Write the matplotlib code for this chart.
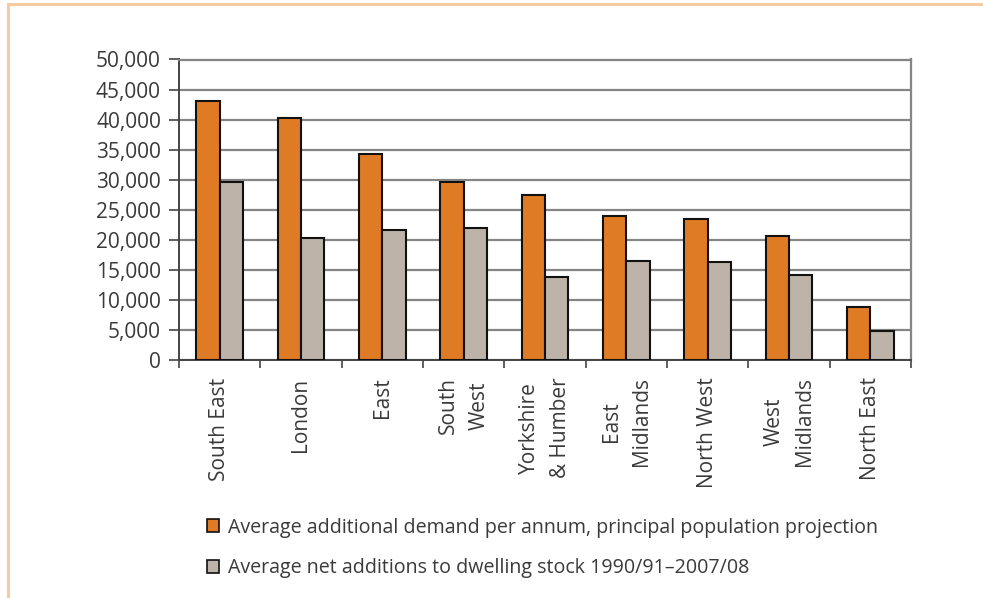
import matplotlib
matplotlib.use("Agg")
import matplotlib.pyplot as plt
import numpy as np
from matplotlib.lines import Line2D
from matplotlib.patches import Patch

categories = ["South East", "London", "East", "South\nWest", "Yorkshire\n& Humber",
              "East\nMidlands", "North West", "West\nMidlands", "North East"]
demand = [43100, 40250, 34250, 29650, 27500, 23900, 23500, 20600, 8800]
additions = [29700, 20300, 21550, 22000, 13800, 16550, 16250, 14100, 4750]
series_names = ["Average additional demand per annum, principal population projection",
                "Average net additions to dwelling stock 1990/91\u20132007/08"]
yticks = list(range(0, 50001, 5000))

plt.rcParams['font.family'] = ['Open Sans', 'DejaVu Sans']
text_color = '#3a3a3a'

W, H = 983, 598
fig = plt.figure(figsize=(W / 100, H / 100), dpi=100)
ax = fig.add_axes([179 / W, 1 - 360 / H, (911 - 179) / W, (360 - 59.5) / H])

x = np.arange(len(categories))
bw = 0.285
ax.bar(x - bw / 2, demand, bw, color='#E07B25', edgecolor='#111111', linewidth=1.5, zorder=3)
ax.bar(x + bw / 2, additions, bw, color='#BDB3A8', edgecolor='#111111', linewidth=1.5, zorder=3)

ax.set_xlim(-0.5, len(categories) - 0.5)
ax.set_ylim(0, 50000)
ax.set_yticks(yticks)
ax.set_yticklabels([f"{v:,}" for v in yticks], fontsize=15, color=text_color)
ax.yaxis.grid(True, color='#858585', linewidth=1.6, zorder=0)
ax.set_axisbelow(True)

# category boundary ticks
ax.set_xticks(np.arange(len(categories) + 1) - 0.5)
ax.set_xticklabels([])
ax.tick_params(axis='x', direction='out', length=6, width=1.2, color='#444444')
ax.tick_params(axis='y', direction='out', length=7, width=1.2, color='#444444', pad=6)

for i, c in enumerate(categories):
    ax.text(i, -0.058, c, transform=ax.get_xaxis_transform(), rotation=90,
            ha='center', va='top', fontsize=15, color=text_color,
            multialignment='center', linespacing=1.6)

for s in ['left', 'bottom']:
    ax.spines[s].set_color('#444444')
    ax.spines[s].set_linewidth(1.4)
for s in ['top', 'right']:
    ax.spines[s].set_color('#858585')
    ax.spines[s].set_linewidth(1.6)

handles = [Patch(facecolor='#E07B25', edgecolor='#111111', linewidth=1.2),
           Patch(facecolor='#BDB3A8', edgecolor='#111111', linewidth=1.2)]
fig.legend(handles, series_names, loc='upper left', bbox_to_anchor=(189 / W, 1 - 500 / H),
           frameon=False, fontsize=14.1, handlelength=0.65, handleheight=0.65,
           handletextpad=0.45, labelspacing=1.05, labelcolor=text_color)

# orange frame
frame_c = '#F6CBA0'
fig.add_artist(Line2D([8 / W, 1], [1 - 4 / H, 1 - 4 / H], color=frame_c, linewidth=2.2,
                      transform=fig.transFigure))
fig.add_artist(Line2D([8 / W, 8 / W], [0, 1 - 4 / H], color=frame_c, linewidth=2.2,
                      transform=fig.transFigure))

fig.savefig("out.png", dpi=100)
